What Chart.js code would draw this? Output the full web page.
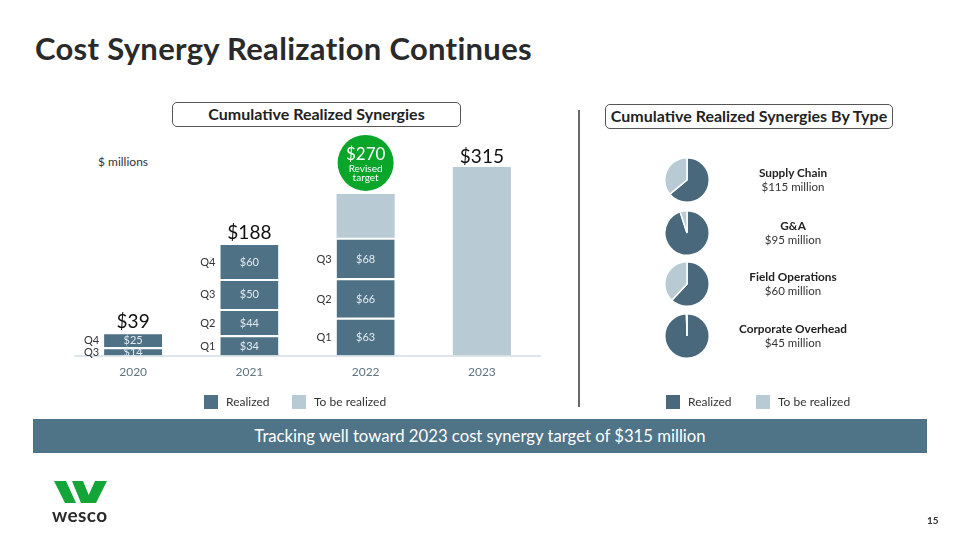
<!DOCTYPE html>
<html><head><meta charset="utf-8">
<script src="https://cdn.jsdelivr.net/npm/chart.js@4/dist/chart.umd.min.js"></script>
<style>
html,body{margin:0;padding:0;background:#fff;}
body{width:960px;height:540px;position:relative;overflow:hidden;font-family:Lato,"Open Sans",sans-serif;color:#222;}
.abs{position:absolute;}
#title{left:35px;top:29px;font-size:31px;font-weight:700;color:#2a2a2a;letter-spacing:0.3px;}
.box{border:1.3px solid #555;border-radius:5px;font-weight:700;font-size:16px;text-align:center;color:#222;box-sizing:border-box;line-height:22px;}
#box1{left:172px;top:102px;width:289px;height:25px;}
#box2{left:605px;top:104px;width:288px;height:25px;}
#divider{left:578px;top:110px;width:1.5px;height:297px;background:#666;}
#millions{left:98px;top:154px;font-size:12px;color:#333;}
.leg{font-size:12px;color:#333;display:flex;align-items:center;}
.sw{width:14px;height:14px;display:inline-block;margin-right:8px;}
#banner{left:33px;top:419px;width:894px;height:34px;background:#4f7387;color:#fff;font-size:16.7px;text-align:center;line-height:34px;}
.pie{width:46px;height:46px;}
.plab{width:140px;text-align:center;font-size:11.5px;color:#333;line-height:14px;}
.plab b{font-size:11.8px;color:#222;}
#pg{left:927px;top:514px;font-size:10px;font-weight:700;color:#333;}
#wesco{left:52px;top:503px;font-size:19px;font-weight:700;color:#2b2b2b;letter-spacing:0.4px;}
</style></head>
<body>
<div id="title" class="abs">Cost Synergy Realization Continues</div>
<div id="box1" class="abs box">Cumulative Realized Synergies</div>
<div id="box2" class="abs box">Cumulative Realized Synergies By Type</div>
<div id="divider" class="abs"></div>
<div id="millions" class="abs">$ millions</div>

<canvas id="bar" class="abs" style="left:0;top:0;" width="960" height="540"></canvas>

<div class="abs pie" style="left:664px;top:157px;"><canvas id="p0"></canvas></div>
<div class="abs pie" style="left:664px;top:210px;"><canvas id="p1"></canvas></div>
<div class="abs pie" style="left:664px;top:261px;"><canvas id="p2"></canvas></div>
<div class="abs pie" style="left:664px;top:313px;"><canvas id="p3"></canvas></div>
<div id="plabels"></div>

<div class="abs leg" style="left:204px;top:394px;"><span class="sw" style="background:#4e7185"></span>Realized</div>
<div class="abs leg" style="left:292px;top:394px;"><span class="sw" style="background:#b8cad4"></span>To be realized</div>
<div class="abs leg" style="left:666px;top:394px;"><span class="sw" style="background:#4a687b"></span>Realized</div>
<div class="abs leg" style="left:756px;top:394px;"><span class="sw" style="background:#b8cad4"></span>To be realized</div>

<div id="banner" class="abs">Tracking well toward 2023 cost synergy target of $315 million</div>

<svg class="abs" style="left:50px;top:478px;" width="62" height="30" viewBox="0 0 62 30">
  <polygon points="4,3 16,3 26,25 15,25" fill="#13a538"/>
  <polygon points="22,3 33,3 42,25 31,25" fill="#13a538"/>
  <polygon points="45,3 57,3 46,25 35,25" fill="#13a538"/>
</svg>
<div id="wesco" class="abs">wesco</div>
<div id="pg" class="abs">15</div>

<script>
// ---- data ----
const years = ['2020','2021','2022','2023'];
const q1 = [null, 34, 63, null];
const q2 = [null, 44, 66, null];
const q3 = [14, 50, 68, null];
const q4 = [25, 60, null, null];
const toBeRealized = [null, null, 73, 315];
const totalLabels = ['$39', '$188', null, '$315'];
const quarterNames = ['Q1','Q2','Q3','Q4'];
const targetBubble = {index: 2, value: '$270', line1: 'Revised', line2: 'target'};

const pieTypes = ['Supply Chain','G&A','Field Operations','Corporate Overhead'];
const pieTargets = ['$115 million','$95 million','$60 million','$45 million'];
const pieRealizedPct = [64, 95, 62, 99.6];
const pieToBePct = [36, 5, 38, 0.4];

const DARK = '#4e7185', LIGHT = '#b8cad4', PIEDARK = '#4a687b';

const qData = [q1, q2, q3, q4];
const datasets = qData.map((d, i) => ({
  label: quarterNames[i], data: d, backgroundColor: DARK, stack: 's',
  borderColor: '#fff', borderWidth: {top: 2, bottom: 0, left: 0, right: 0}, borderSkipped: false
}));
datasets.push({label: 'To be realized', data: toBeRealized, backgroundColor: LIGHT, stack: 's',
  borderColor: '#fff', borderWidth: {top: 0, bottom: 0, left: 0, right: 0}, borderSkipped: false});

const labelPlugin = {
  id: 'labels',
  afterDatasetsDraw(chart) {
    const ctx = chart.ctx;
    const yS = chart.scales.y;
    ctx.save();
    for (let di = 0; di < 4; di++) {
      const meta = chart.getDatasetMeta(di);
      meta.data.forEach((bar, i) => {
        const v = qData[di][i];
        if (v == null) return;
        const yc = (bar.y + bar.base) / 2 + 1;
        ctx.fillStyle = '#e3eaef';
        ctx.font = '11px Lato, sans-serif';
        ctx.textAlign = 'center'; ctx.textBaseline = 'middle';
        ctx.fillText('$' + v, bar.x, yc);
        ctx.fillStyle = '#333';
        ctx.textAlign = 'right';
        ctx.fillText(quarterNames[di], bar.x - bar.width / 2 - 5, yc);
      });
    }
    years.forEach((y, i) => {
      let total = 0;
      datasets.forEach(ds => { total += ds.data[i] || 0; });
      const top = yS.getPixelForValue(total);
      const x = chart.scales.x.getPixelForValue(i);
      if (totalLabels[i]) {
        ctx.fillStyle = '#111';
        ctx.font = '19px Lato, sans-serif';
        ctx.textAlign = 'center'; ctx.textBaseline = 'bottom';
        ctx.fillText(totalLabels[i], x, top - 1);
      }
      if (i === targetBubble.index) {
        const cy = top - 31;
        ctx.beginPath(); ctx.arc(x, cy, 28, 0, Math.PI * 2);
        ctx.fillStyle = '#0aa62a'; ctx.fill();
        ctx.fillStyle = '#fff'; ctx.textAlign = 'center'; ctx.textBaseline = 'middle';
        ctx.font = '17px Lato, sans-serif';
        ctx.fillText(targetBubble.value, x, cy - 8);
        ctx.font = '10px Lato, sans-serif';
        ctx.fillText(targetBubble.line1, x, cy + 6);
        ctx.fillText(targetBubble.line2, x, cy + 15);
      }
    });
    ctx.restore();
  }
};

new Chart(document.getElementById('bar'), {
  type: 'bar',
  data: {labels: years, datasets},
  options: {
    responsive: false, animation: false,
    layout: {padding: {left: 75, right: 420, top: 146, bottom: 152}},
    plugins: {legend: {display: false}, tooltip: {enabled: false}},
    datasets: {bar: {barPercentage: 0.5, categoryPercentage: 1}},
    scales: {
      x: {stacked: true, grid: {display: false, drawTicks: false},
          border: {display: true, color: '#dfe6eb', width: 2},
          ticks: {color: '#5f7384', font: {family: 'Lato', size: 12}, padding: 9}},
      y: {stacked: true, display: false, min: 0, max: 350}
    }
  },
  plugins: [labelPlugin]
});

const labHolder = document.getElementById('plabels');
const pieTops = [157, 210, 261, 313];
pieTypes.forEach((t, i) => {
  new Chart(document.getElementById('p' + i), {
    type: 'pie',
    data: {labels: ['Realized', 'To be realized'],
      datasets: [{data: [pieRealizedPct[i], pieToBePct[i]], backgroundColor: [PIEDARK, LIGHT],
        borderColor: '#fff', borderWidth: 1.5}]},
    options: {responsive: true, maintainAspectRatio: false, animation: false,
      layout: {padding: 0},
      plugins: {legend: {display: false}, tooltip: {enabled: false}}}
  });
  const d = document.createElement('div');
  d.className = 'abs plab';
  d.style.left = '723px';
  d.style.top = (pieTops[i] + 9) + 'px';
  d.innerHTML = '<b>' + t + '</b><br>' + pieTargets[i];
  labHolder.appendChild(d);
});
</script>
</body></html>
